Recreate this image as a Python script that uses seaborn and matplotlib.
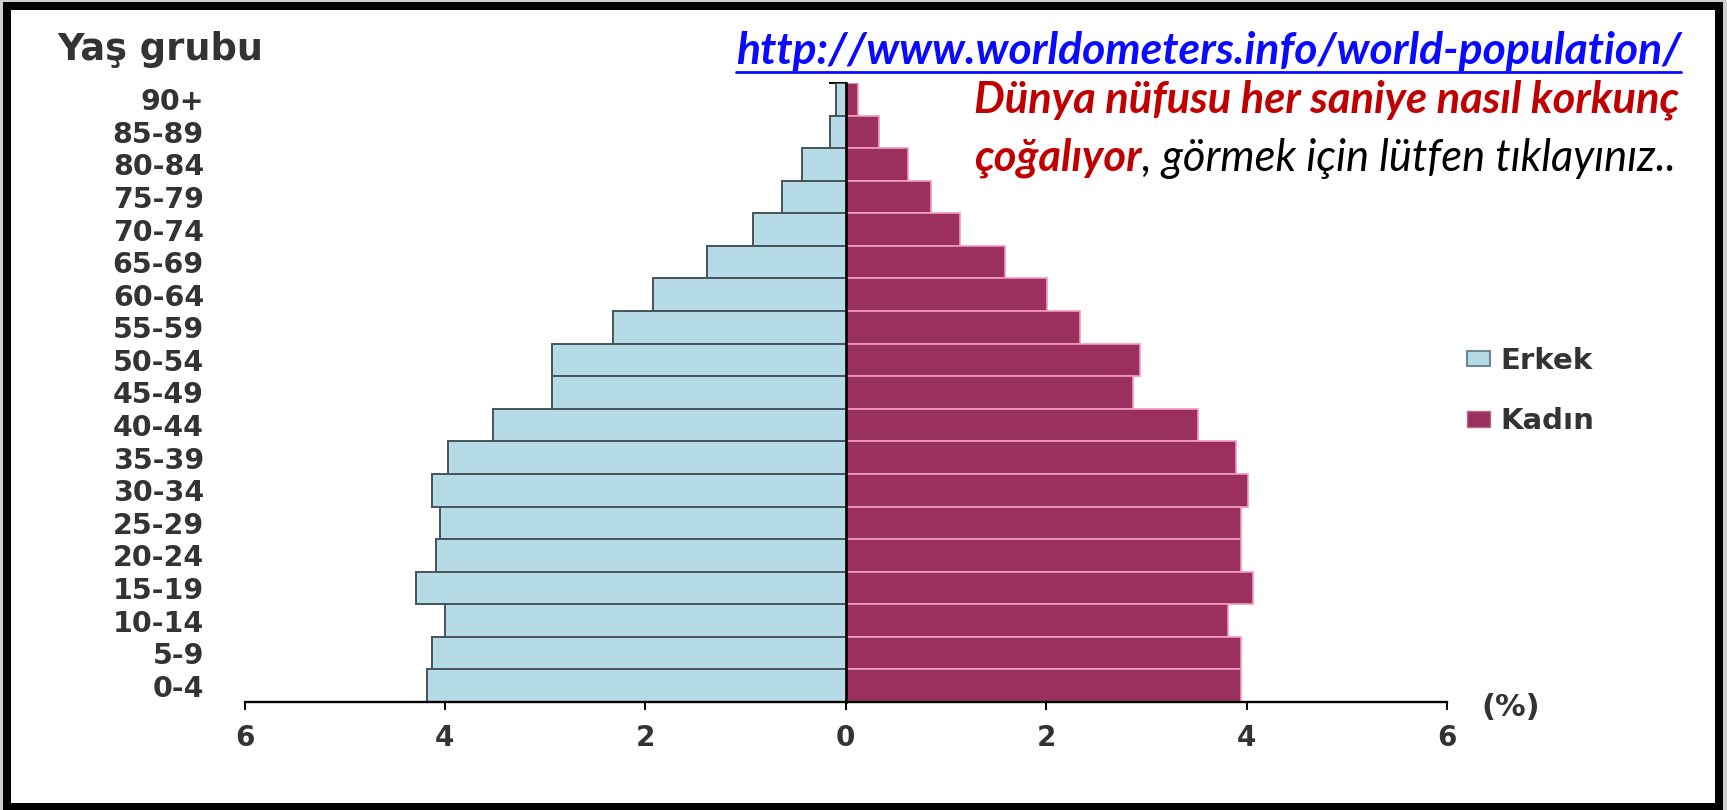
import numpy as np
import pandas as pd
import matplotlib
matplotlib.use("Agg")
import matplotlib.pyplot as plt
import matplotlib.patches as mpatches
from matplotlib.lines import Line2D
import seaborn as sns

# ---------------- data ----------------
age_groups = ["0-4", "5-9", "10-14", "15-19", "20-24", "25-29", "30-34", "35-39",
              "40-44", "45-49", "50-54", "55-59", "60-64", "65-69", "70-74",
              "75-79", "80-84", "85-89", "90+"]
male_pct = [4.18, 4.13, 4.00, 4.29, 4.09, 4.05, 4.13, 3.97, 3.52, 2.93, 2.93,
            2.32, 1.92, 1.38, 0.93, 0.64, 0.44, 0.16, 0.10]
female_pct = [3.94, 3.94, 3.81, 4.06, 3.94, 3.94, 4.01, 3.89, 3.52, 2.87, 2.94,
              2.34, 2.01, 1.59, 1.14, 0.85, 0.62, 0.33, 0.12]
sex_labels = ["Erkek", "Kadın"]
x_ticks = [-6, -4, -2, 0, 2, 4, 6]

url_text = "http://www.worldometers.info/world-population/"
line2_text = "Dünya nüfusu her saniye nasıl korkunç"
line3_red = "çoğalıyor"
line3_black = ", görmek için lütfen tıklayınız.."

male_color = "#b5dce6"
female_color = "#9b2f5e"
label_color = "#333333"

df = pd.DataFrame({
    "age": age_groups * 2,
    "value": [-v for v in male_pct] + list(female_pct),
    "sex": [sex_labels[0]] * len(age_groups) + [sex_labels[1]] * len(age_groups),
})
order = age_groups[::-1]

# ---------------- figure ----------------
W, H, DPI = 1727, 810, 100
sns.set_style("white")
plt.rcParams["font.family"] = ["DejaVu Sans"]
fig = plt.figure(figsize=(W / DPI, H / DPI), dpi=DPI, facecolor="#cfcfcf")

# outer frame
frame = mpatches.Rectangle((7 / W, 1 - 807 / H), (1718.5 - 7) / W, (807 - 6) / H,
                           transform=fig.transFigure, facecolor="white",
                           edgecolor="black", linewidth=8 * 72 / DPI, zorder=-5)
fig.patches.append(frame)

ax_left, ax_right, ax_bot, ax_top = 244.5, 1447, 702, 83
ax = fig.add_axes([ax_left / W, 1 - ax_bot / H, (ax_right - ax_left) / W,
                   (ax_bot - ax_top) / H])
ax.set_facecolor("none")
ax.set_zorder(2)

sns.barplot(data=df, x="value", y="age", hue="sex", order=order,
            hue_order=sex_labels, palette=[male_color, female_color],
            dodge=False, width=1.0, orient="h", errorbar=None,
            saturation=1, ax=ax)

for p in ax.patches:
    if p.get_width() < 0:
        p.set_edgecolor("#46545a")
        p.set_linewidth(1.4)
    elif p.get_width() > 0:
        p.set_edgecolor("#f29ac0")
        p.set_linewidth(1.2)

ax.set_xlim(-6, 6)
ax.set_ylim(len(order) - 0.5, -0.5)
ax.set_xlabel("")
ax.set_ylabel("")

for s in ["top", "right"]:
    ax.spines[s].set_visible(False)
ax.spines["left"].set_position(("data", 0))
ax.spines["left"].set_linewidth(1.9)
ax.spines["left"].set_color("black")
ax.spines["left"].set_zorder(5)
ax.spines["bottom"].set_linewidth(1.7)
ax.spines["bottom"].set_color("black")

ax.set_xticks(x_ticks)
ax.set_xticklabels([str(abs(t)) for t in x_ticks], fontweight="bold")
ax.tick_params(axis="x", direction="out", length=6, width=1.4, color="black",
               pad=10, labelsize=20, labelcolor=label_color, bottom=True)

ax.set_yticks(range(len(order)))
ax.set_yticklabels(order, fontweight="bold")
zero_px = ax_left + (0 - (-6)) / 12 * (ax_right - ax_left)
ax.tick_params(axis="y", which="major", length=0,
               pad=(zero_px - 204) * 72 / DPI, labelsize=20.5,
               labelcolor=label_color, left=True)
ax.set_yticks(np.arange(-0.5, len(order), 1.0), minor=True)
ax.tick_params(axis="y", which="minor", direction="out", length=12, width=1.4,
               color="black", left=True)

# legend
handles, labels = ax.get_legend_handles_labels()
if ax.get_legend() is not None:
    ax.get_legend().remove()
leg = fig.legend(handles, labels, loc="upper left",
                 bbox_to_anchor=(1467 / W, 1 - 347 / H),
                 frameon=False, prop={"size": 21, "weight": "bold"},
                 handlelength=0.8, handleheight=0.45,
                 handletextpad=0.35, labelspacing=1.1, borderpad=0,
                 borderaxespad=0)
for t in leg.get_texts():
    t.set_color(label_color)
lh = leg.legend_handles
lh[0].set_edgecolor("#6e8890"); lh[0].set_linewidth(1.5)
lh[1].set_edgecolor("#b56a8a"); lh[1].set_linewidth(1.0)

# axis texts
fig.text(57 / W, 1 - 50 / H, "Yaş grubu", ha="left", va="center", fontsize=26.5,
         fontweight="bold", color=label_color)
fig.text(1481 / W, 1 - 708 / H, "(%)", ha="left", va="center", fontsize=22,
         fontweight="bold", color=label_color)

# ---------------- top-right texts ----------------
fig.canvas.draw()
renderer = fig.canvas.get_renderer()
tfont = ["Lato", "DejaVu Sans"]


def fit_text(x, y, s, target_w, **kw):
    t = fig.text(x / W, 1 - y / H, s, family=tfont, fontsize=30, **kw)
    w = t.get_window_extent(renderer).width
    t.set_fontsize(30 * target_w / w)
    return t


t_url = fit_text(736, 64, url_text, 944, ha="left", va="baseline",
                 color="#0a0aff", weight="bold", style="italic")
t_l2 = fit_text(974, 113, line2_text, 706, ha="left", va="baseline",
                color="#c00000", weight="bold", style="italic")
fs = t_l2.get_fontsize()
t_l3a = fig.text(974 / W, 1 - 171 / H, line3_red, family=tfont, fontsize=fs,
                 ha="left", va="baseline", color="#c00000", weight="bold",
                 style="italic")
fig.canvas.draw()
bb = t_l3a.get_window_extent(renderer)
t_l3b = fig.text(bb.x1 / W, t_l3a.get_position()[1], line3_black, family=tfont,
                 fontsize=fs, ha="left", va="baseline", color="black",
                 style="italic")

# underline for URL
fig.canvas.draw()
ub = t_url.get_window_extent(renderer)
fig.add_artist(Line2D([ub.x0 / W, ub.x1 / W], [(H - 72) / H] * 2,
                      transform=fig.transFigure, color="#0a0aff", linewidth=2.0))

fig.savefig("out.png", dpi=DPI, facecolor=fig.get_facecolor())
